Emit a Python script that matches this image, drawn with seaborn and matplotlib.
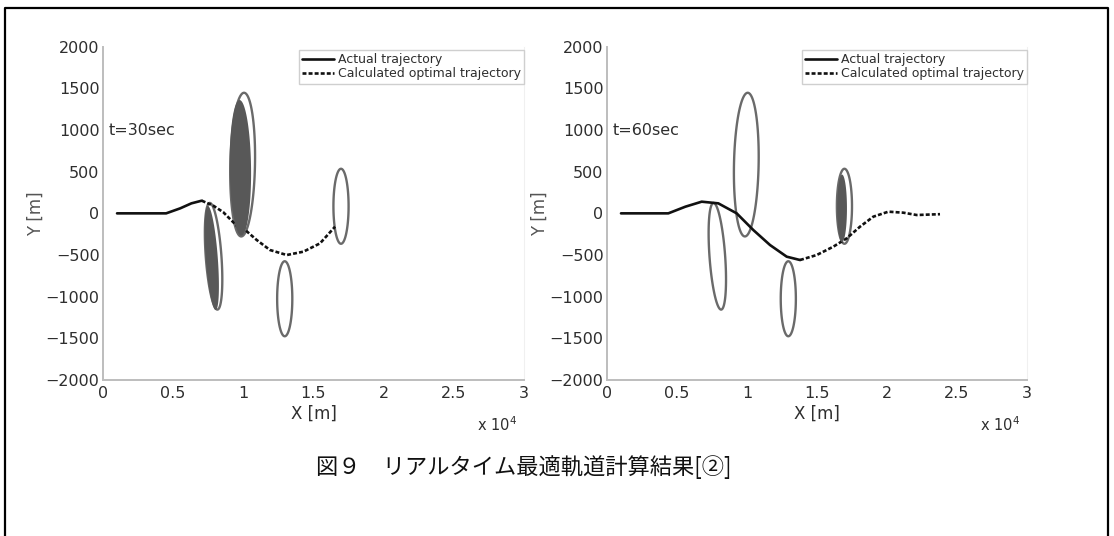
import numpy as np
import pandas as pd
import matplotlib
matplotlib.use("Agg")
import matplotlib.pyplot as plt
from matplotlib.lines import Line2D
from matplotlib.patches import Polygon
import seaborn as sns

# ---------------- data ----------------
# obstacle ellipses (outline): centre, semi-axes, tilt offset (x shift of top)
obs_cx = [7880, 9950, 12950, 16960]
obs_cy = [-515, 585, -1025, 85]
obs_ax = [560, 880, 540, 540]
obs_ay = [640, 862, 450, 450]
obs_sx = [-270, 100, 0, 0]

# filled (dark) regions, t=30 sec
fill30_cx = [7750, 9790]
fill30_cy = [-536, 545]
fill30_ax = [430, 760]
fill30_ay = [624, 815]
fill30_sx = [-275, -60]

# filled (dark) region, t=60 sec
fill60_cx = [16790]
fill60_cy = [60]
fill60_ax = [350]
fill60_ay = [405]
fill60_sx = [0]

# trajectories t=30 sec
act30_x = [1000, 4500, 5500, 6300, 7035]
act30_y = [0, 0, 60, 120, 152]
opt30_x = [7035, 7862, 8575, 9052, 9643, 10000, 10955, 11900, 13093, 14280, 15466, 16536]
opt30_y = [152, 92, 13, -68, -167, -180, -320, -440, -500, -460, -360, -160]

# trajectories t=60 sec
act60_x = [1000, 2357, 4380, 5600, 6764, 7950, 9264, 10450, 11643, 12836, 13786]
act60_y = [0, 0, 0, 80, 140, 120, 0, -200, -380, -520, -560]
opt60_x = [13786, 14979, 16165, 17121, 18072, 19022, 20095, 21167, 22122, 23786]
opt60_y = [-560, -500, -400, -300, -160, -40, 20, 8, -20, -10]

x_ticks = [0, 5000, 10000, 15000, 20000, 25000, 30000]
x_ticklabels = ["0", "0.5", "1", "1.5", "2", "2.5", "3"]
y_ticks = [-2000, -1500, -1000, -500, 0, 500, 1000, 1500, 2000]
time_labels = ["t=30sec", "t=60sec"]
legend_labels = ["Actual trajectory", "Calculated optimal trajectory"]
caption = "図９　リアルタイム最適軌道計算結果[②]"

# ---------------- style ----------------
sns.set_style("white")
plt.rcParams["font.family"] = ["DejaVu Sans"]
plt.rcParams["mathtext.fontset"] = "dejavusans"

TXT = "#2e2e2e"
AXC = "#bdbdbd"
OUTLINE = "#6a6a6a"
FILLC = "#585858"
DASH = (0, (1.5, 0.8))

fig = plt.figure(figsize=(11.14, 5.36), dpi=100)
W, H = 1114, 536
ax_l = fig.add_axes([103 / W, 1 - 380 / H, 421 / W, 333.3 / H])
ax_r = fig.add_axes([607 / W, 1 - 380 / H, 420 / W, 333.3 / H])

t = np.linspace(0, 2 * np.pi, 240, endpoint=False)


def ellipse_xy(cx, cy, a, b, s):
    return np.column_stack([cx + a * np.cos(t) + s * np.sin(t), cy + b * np.sin(t)])


def draw_panel(ax, fcx, fcy, fax, fay, fsx, ax_, ay_, ox_, oy_, tlabel):
    # obstacle outlines
    for cx, cy, a, b, s in zip(obs_cx, obs_cy, obs_ax, obs_ay, obs_sx):
        ax.add_patch(Polygon(ellipse_xy(cx, cy, a, b, s), closed=True, fill=False,
                             edgecolor=OUTLINE, lw=1.7, zorder=1))
    # trajectories
    d_act = pd.DataFrame({"x": ax_, "y": ay_})
    d_opt = pd.DataFrame({"x": ox_, "y": oy_})
    sns.lineplot(data=d_act, x="x", y="y", ax=ax, color="#111111", lw=1.9,
                 sort=False, estimator=None, zorder=2)
    sns.lineplot(data=d_opt, x="x", y="y", ax=ax, color="#111111", lw=1.9,
                 sort=False, estimator=None, zorder=2, dashes=False,
                 linestyle=DASH)
    # filled regions
    for cx, cy, a, b, s in zip(fcx, fcy, fax, fay, fsx):
        ax.add_patch(Polygon(ellipse_xy(cx, cy, a, b, s), closed=True,
                             facecolor=FILLC, edgecolor="none", zorder=3))

    ax.set_xlim(0, 30000)
    ax.set_ylim(-2000, 2000)
    ax.set_xticks(x_ticks)
    ax.set_xticklabels(x_ticklabels)
    ax.set_yticks(y_ticks)
    ax.tick_params(axis="both", direction="in", length=3, width=1, color=AXC,
                   labelsize=11.5, labelcolor=TXT, pad=2.5)
    ax.tick_params(axis="x", pad=4)
    for side in ["left", "bottom"]:
        ax.spines[side].set_color(AXC)
        ax.spines[side].set_linewidth(1.4)
    ax.spines["top"].set_visible(False)
    ax.spines["right"].set_color("#f0f0f0")
    ax.spines["right"].set_linewidth(0.8)
    ax.set_xlabel("X [m]", fontsize=12, color=TXT, labelpad=3)
    ax.set_ylabel("Y [m]", fontsize=12, color="#555555", labelpad=0.5)
    ax.text(430, 1000, tlabel, fontsize=11.5, color=TXT, va="center", ha="left")
    ax.text(0.935, -0.135, r"x $\mathregular{10^4}$", transform=ax.transAxes,
            fontsize=10.5, color=TXT, ha="center", va="center")
    handles = [Line2D([], [], color="#111111", lw=1.9),
               Line2D([], [], color="#111111", lw=1.9, linestyle=DASH)]
    leg = ax.legend(handles, legend_labels, loc="upper right",
                    bbox_to_anchor=(1.0, 0.99), fontsize=9, frameon=True,
                    fancybox=False, framealpha=1, edgecolor="#cfcfcf",
                    handlelength=2.6, handletextpad=0.3, borderpad=0.25,
                    labelspacing=0.1, borderaxespad=0.0)
    leg.get_frame().set_linewidth(1.0)
    for txt in leg.get_texts():
        txt.set_color(TXT)


draw_panel(ax_l, fill30_cx, fill30_cy, fill30_ax, fill30_ay, fill30_sx,
           act30_x, act30_y, opt30_x, opt30_y, time_labels[0])
draw_panel(ax_r, fill60_cx, fill60_cy, fill60_ax, fill60_ay, fill60_sx,
           act60_x, act60_y, opt60_x, opt60_y, time_labels[1])

# caption
fig.text(524 / W, 1 - 467 / H, caption, fontsize=16, color="#111111",
         ha="center", va="center",
         family=["Noto Sans CJK JP", "DejaVu Sans"])

# outer frame (left, top, right)
fx0, fx1 = 5 / W, 1108 / W
fy1 = 1 - 8 / H
fig.add_artist(Line2D([fx0, fx0, fx1, fx1], [0, fy1, fy1, 0],
                      transform=fig.transFigure, color="black", lw=1.6))

fig.savefig("out.png", dpi=100, facecolor="white")
